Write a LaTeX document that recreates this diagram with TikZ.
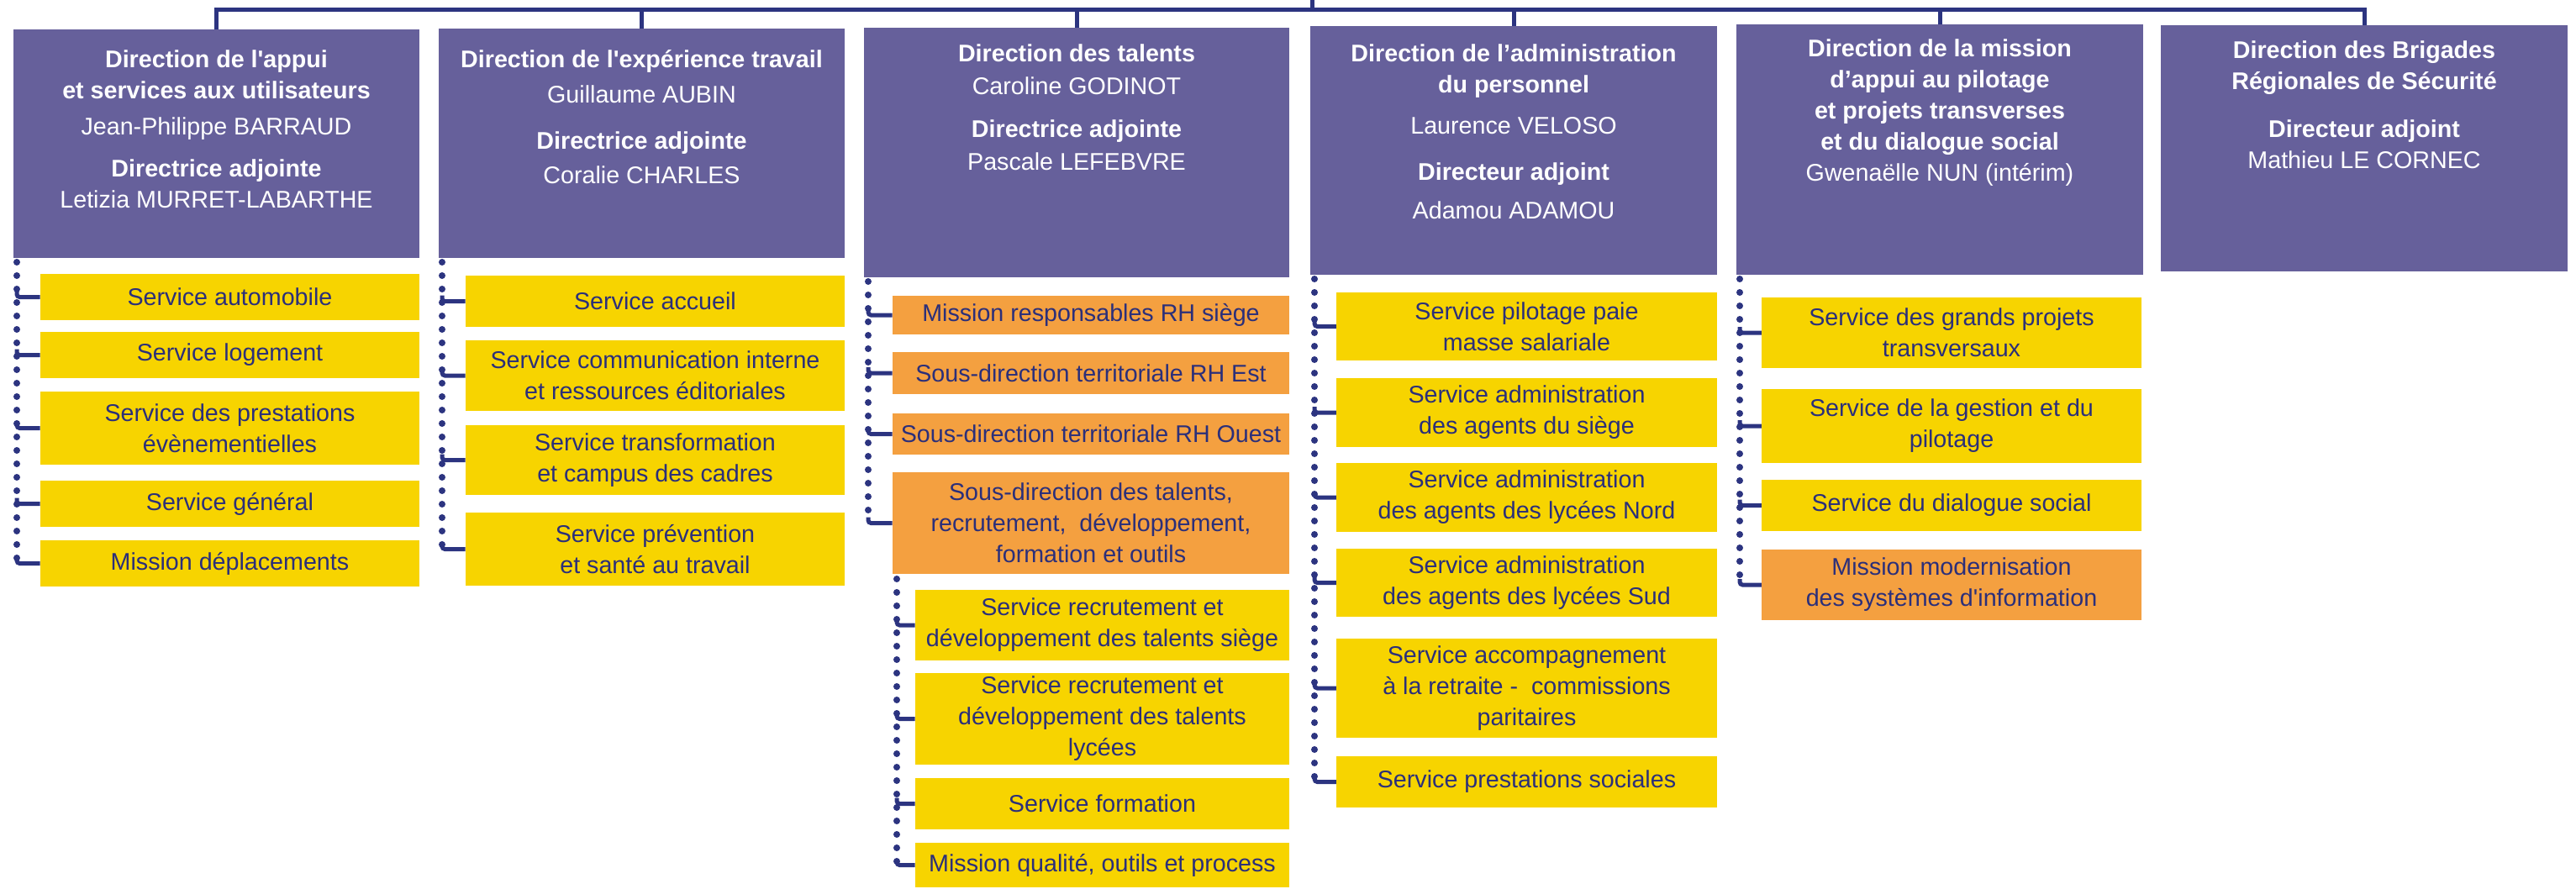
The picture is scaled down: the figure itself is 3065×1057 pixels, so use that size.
\documentclass[tikz,border=0pt]{standalone}
\usepackage{fontspec}
\setmainfont{Liberation Sans}
\usepackage{tikz}

\definecolor{dirpurple}{RGB}{102,96,155}
\definecolor{svcyellow}{RGB}{247,212,0}
\definecolor{svcorange}{RGB}{244,160,64}
\definecolor{navy}{RGB}{43,47,122}
\definecolor{linenavy}{RGB}{44,52,128}

\begin{document}
\begin{tikzpicture}[x=0.75pt,y=0.75pt,yscale=-1,xscale=1,
  dirbox/.style={fill=dirpurple, inner sep=0pt},
  dirtext/.style={text=white, align=center, inner sep=0pt, anchor=north, font=\fontsize{21.5}{27.75}\selectfont},
  svcbox/.style={fill=svcyellow, text=navy, align=center, inner sep=0pt, font=\fontsize{21.5}{27.75}\selectfont},
  misbox/.style={svcbox, fill=svcorange},
  wh/.style 2 args={minimum width=#1*0.75pt, minimum height=#2*0.75pt},
  busline/.style={draw=linenavy, line width=3.75pt},
  dotline/.style={draw=linenavy, line width=6pt, line cap=round, dash pattern=on 0pt off 12pt},
  elbow/.style={draw=linenavy, line width=3.75pt, rounded corners=2.5pt}]
\useasboundingbox (0,0) rectangle (3065,1057);

%Shape: Rectangle [directions]
\node[dirbox, wh={483}{272}] (d1) at (257.5,171) {};
\node[dirbox, wh={483}{273}] (d2) at (763.5,170.5) {};
\node[dirbox, wh={506}{297}] (d3) at (1281,181.5) {};
\node[dirbox, wh={484}{296}] (d4) at (1801,179) {};
\node[dirbox, wh={484}{298}] (d5) at (2308,178) {};
\node[dirbox, wh={484}{293}] (d6) at (2813,176.5) {};

% Text Node
\node[dirtext] (d1txt) at (257.5,59) {\textbf{Direction de l\textquotesingle appui}\\\textbf{et services aux utilisateurs}\\[4.5pt] Jean-Philippe BARRAUD\\[10pt] \textbf{Directrice adjointe}\\ Letizia MURRET-LABARTHE};
% Text Node
\node[dirtext] (d2txt) at (763.5,59) {\textbf{Direction de l\textquotesingle expérience travail}\\[4pt] Guillaume AUBIN\\[13.5pt] \textbf{Directrice adjointe}\\[3pt] Coralie CHARLES};
% Text Node
\node[dirtext] (d3txt) at (1281,52) {\textbf{Direction des talents}\\[2pt] Caroline GODINOT\\[10.5pt] \textbf{Directrice adjointe}\\[1.5pt] Pascale LEFEBVRE};
% Text Node
\node[dirtext] (d4txt) at (1801,52) {\textbf{Direction de l'administration}\\\textbf{du personnel}\\[9pt] Laurence VELOSO\\[13.5pt] \textbf{Directeur adjoint}\\[7pt] Adamou ADAMOU};
% Text Node
\node[dirtext] (d5txt) at (2308,46) {\textbf{Direction de la mission}\\\textbf{d'appui au pilotage}\\\textbf{et projets transverses}\\\textbf{et du dialogue social}\\ Gwenaëlle NUN (intérim)};
% Text Node
\node[dirtext] (d6txt) at (2813,48) {\textbf{Direction des Brigades}\\\textbf{Régionales de Sécurité}\\[15pt] \textbf{Directeur adjoint}\\ Mathieu LE CORNEC};

%Straight Lines [bus]
\coordinate (bus) at (1561,11);
\coordinate (up) at (1561,0);
\draw[busline] (d1.north) -- (d1.north |- bus) -- (d6.north |- bus) -- (d6.north);
\draw[busline] (bus) -- (up);
\draw[busline] (d2.north) -- (d2.north |- bus);
\draw[busline] (d3.north) -- (d3.north |- bus);
\draw[busline] (d4.north) -- (d4.north |- bus);
\draw[busline] (d5.north) -- (d5.north |- bus);

%Shape: Rectangle [column 1]
\node[svcbox, wh={451}{55}] (s11) at (273.5,353.5) {Service automobile};
\node[svcbox, wh={451}{55}] (s12) at (273.5,422.5) {Service logement};
\node[svcbox, wh={451}{87}] (s13) at (273.5,509.5) {Service des prestations\\évènementielles};
\node[svcbox, wh={451}{55}] (s14) at (273.5,599.5) {Service général};
\node[svcbox, wh={451}{55}] (s15) at (273.5,670.5) {Mission déplacements};

%Shape: Rectangle [column 2]
\node[svcbox, wh={451}{61}] (s21) at (779.5,358.5) {Service accueil};
\node[svcbox, wh={451}{84}] (s22) at (779.5,447) {Service communication interne\\et ressources éditoriales};
\node[svcbox, wh={451}{83}] (s23) at (779.5,547.5) {Service transformation\\et campus des cadres};
\node[svcbox, wh={451}{87}] (s24) at (779.5,653.5) {Service prévention\\et santé au travail};

%Shape: Rectangle [column 3]
\node[misbox, wh={472}{46}] (s31) at (1298,375) {Mission responsables RH siège};
\node[misbox, wh={472}{50}] (s32) at (1298,444) {Sous-direction territoriale RH Est};
\node[misbox, wh={472}{49}] (s33) at (1298,516.5) {Sous-direction territoriale RH Ouest};
\node[misbox, wh={472}{121}] (s34) at (1298,622.5) {Sous-direction des talents,\\recrutement,\ \ développement,\\formation et outils};
\node[svcbox, wh={445}{84}] (s341) at (1311.5,744) {Service recrutement et\\développement des talents siège};
\node[svcbox, wh={445}{109}] (s342) at (1311.5,855.5) {Service recrutement et\\développement des talents\\lycées};
\node[svcbox, wh={445}{61}] (s343) at (1311.5,956.5) {Service formation};
\node[svcbox, wh={445}{53}] (s344) at (1311.5,1029.5) {Mission qualité, outils et process};

%Shape: Rectangle [column 4]
\node[svcbox, wh={453}{81}] (s41) at (1816.5,388.5) {Service pilotage paie\\masse salariale};
\node[svcbox, wh={453}{82}] (s42) at (1816.5,491) {Service administration\\des agents du siège};
\node[svcbox, wh={453}{82}] (s43) at (1816.5,592) {Service administration\\des agents des lycées Nord};
\node[svcbox, wh={453}{81}] (s44) at (1816.5,693.5) {Service administration\\des agents des lycées Sud};
\node[svcbox, wh={453}{118}] (s45) at (1816.5,819) {Service accompagnement\\à la retraite -\ \ commissions\\paritaires};
\node[svcbox, wh={453}{61}] (s46) at (1816.5,930.5) {Service prestations sociales};

%Shape: Rectangle [column 5]
\node[svcbox, wh={452}{84}] (s51) at (2322,396) {Service des grands projets\\transversaux};
\node[svcbox, wh={452}{88}] (s52) at (2322,507) {Service de la gestion et du\\pilotage};
\node[svcbox, wh={452}{61}] (s53) at (2322,601.5) {Service du dialogue social};
\node[misbox, wh={452}{84}] (s54) at (2322,696) {Mission modernisation\\des systèmes d\textquotesingle information};

%Dotted Lines
\coordinate (r1) at (20,312);
\coordinate (r2) at (526,312);
\coordinate (r3) at (1033,335);
\coordinate (r34) at (1067,689);
\coordinate (r4) at (1564,332);
\coordinate (r5) at (2070,332);
\draw[dotline] (r1) -- (r1 |- s15.west);
\draw[dotline] (r2) -- (r2 |- s24.west);
\draw[dotline] (r3) -- (r3 |- s34.west);
\draw[dotline] (r34) -- (r34 |- s344.west);
\draw[dotline] (r4) -- (r4 |- s46.west);
\draw[dotline] (r5) -- (r5 |- s54.west);

%Straight Lines [elbows]
\draw[elbow] (r1 |- s11.west) ++(0,-7) -- ++(0,7) -- (s11.west);
\draw[elbow] (r1 |- s12.west) ++(0,-7) -- ++(0,7) -- (s12.west);
\draw[elbow] (r1 |- s13.west) ++(0,-7) -- ++(0,7) -- (s13.west);
\draw[elbow] (r1 |- s14.west) ++(0,-7) -- ++(0,7) -- (s14.west);
\draw[elbow] (r1 |- s15.west) ++(0,-7) -- ++(0,7) -- (s15.west);
\draw[elbow] (r2 |- s21.west) ++(0,-7) -- ++(0,7) -- (s21.west);
\draw[elbow] (r2 |- s22.west) ++(0,-7) -- ++(0,7) -- (s22.west);
\draw[elbow] (r2 |- s23.west) ++(0,-7) -- ++(0,7) -- (s23.west);
\draw[elbow] (r2 |- s24.west) ++(0,-7) -- ++(0,7) -- (s24.west);
\draw[elbow] (r3 |- s31.west) ++(0,-7) -- ++(0,7) -- (s31.west);
\draw[elbow] (r3 |- s32.west) ++(0,-7) -- ++(0,7) -- (s32.west);
\draw[elbow] (r3 |- s33.west) ++(0,-7) -- ++(0,7) -- (s33.west);
\draw[elbow] (r3 |- s34.west) ++(0,-7) -- ++(0,7) -- (s34.west);
\draw[elbow] (r34 |- s341.west) ++(0,-7) -- ++(0,7) -- (s341.west);
\draw[elbow] (r34 |- s342.west) ++(0,-7) -- ++(0,7) -- (s342.west);
\draw[elbow] (r34 |- s343.west) ++(0,-7) -- ++(0,7) -- (s343.west);
\draw[elbow] (r34 |- s344.west) ++(0,-7) -- ++(0,7) -- (s344.west);
\draw[elbow] (r4 |- s41.west) ++(0,-7) -- ++(0,7) -- (s41.west);
\draw[elbow] (r4 |- s42.west) ++(0,-7) -- ++(0,7) -- (s42.west);
\draw[elbow] (r4 |- s43.west) ++(0,-7) -- ++(0,7) -- (s43.west);
\draw[elbow] (r4 |- s44.west) ++(0,-7) -- ++(0,7) -- (s44.west);
\draw[elbow] (r4 |- s45.west) ++(0,-7) -- ++(0,7) -- (s45.west);
\draw[elbow] (r4 |- s46.west) ++(0,-7) -- ++(0,7) -- (s46.west);
\draw[elbow] (r5 |- s51.west) ++(0,-7) -- ++(0,7) -- (s51.west);
\draw[elbow] (r5 |- s52.west) ++(0,-7) -- ++(0,7) -- (s52.west);
\draw[elbow] (r5 |- s53.west) ++(0,-7) -- ++(0,7) -- (s53.west);
\draw[elbow] (r5 |- s54.west) ++(0,-7) -- ++(0,7) -- (s54.west);
\end{tikzpicture}
\end{document}
